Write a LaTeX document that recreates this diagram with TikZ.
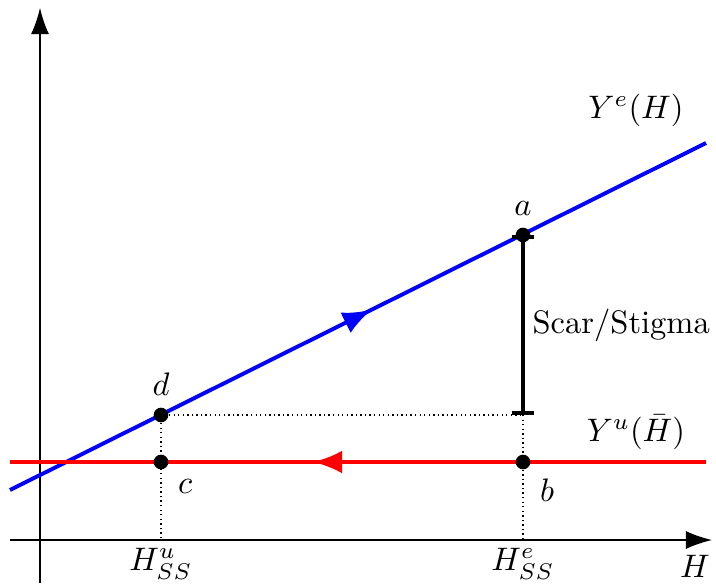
\documentclass[tikz,border=0pt]{standalone}
\usetikzlibrary{arrows.meta,decorations.markings,positioning}

\begin{document}
\begin{tikzpicture}[
    x=0.54cm, y=0.54cm,
    axis/.style={-{Latex[length=8pt,width=5.5pt]}, thin},
    curve-e/.style={blue, line width=1.2pt, postaction={decorate},
        decoration={markings, mark=at position 0.52 with {\arrow{Latex[length=9pt,width=7pt]}}}},
    curve-u/.style={red, line width=1.2pt, postaction={decorate},
        decoration={markings, mark=at position 0.565 with {\arrow{Latex[length=9pt,width=7pt]}}}},
    guide/.style={densely dotted, thin},
    dot/.style={circle, fill=black, inner sep=0pt, minimum size=4.5pt},
    gap/.style={{Bar[width=7pt]}-{Bar[width=7pt]}, line width=1.2pt}
]
\useasboundingbox (-0.8,-0.86) rectangle (13.52,10.8);

% --- Axes ---
\coordinate (O) at (0,0);
\coordinate (xl) at (-0.6,0);
\coordinate (xr) at (13.44,0);
\coordinate (yb) at (0,-0.86);
\coordinate (yt) at (0,10.64);
\draw[axis] (xl) -- (xr);
\draw[axis] (yb) -- (yt);
\node[below=4pt of xr.east, anchor=north east, inner sep=0.5pt] (xlabel) {$H$};

% --- Curves ---
\coordinate (e-start) at (-0.6,1.0);
\coordinate (e-end) at (13.32,7.94);
\coordinate (u-start) at (13.32,1.56);
\coordinate (u-end) at (-0.6,1.56);
\draw[curve-e] (e-start) -- (e-end);
\draw[curve-u] (u-start) -- (u-end);
\node at (11.92,8.6) {$Y^{e}(H)$};
\node at (11.92,2.16) {$Y^{u}(\bar{H})$};

% --- Points ---
\node[dot, label={above:$a$}] (a) at (9.66,6.1) {};
\node[dot, label={below right=-1pt:$b$}] (b) at (9.66,1.56) {};
\node[dot, label={below right=-1pt:$c$}] (c) at (2.42,1.56) {};
\node[dot, label={above:$d$}] (d) at (2.42,2.5) {};

% --- Guides ---
\coordinate (ss-u) at (2.42,0);
\coordinate (ss-e) at (9.66,0);
\coordinate (a-low) at (9.66,2.5);
\draw[guide] (d) -- (a-low);
\draw[guide] (d) -- (ss-u);
\draw[guide] (a-low) -- (ss-e);
\node[below=-1pt] at (ss-u) {$H^{u}_{SS}$};
\node[below=-1pt] at (ss-e) {$H^{e}_{SS}$};

% --- Scar ---
\draw[gap] (a.center) -- (a-low) node[midway, right=-1pt] {Scar/Stigma};

\end{tikzpicture}
\end{document}
